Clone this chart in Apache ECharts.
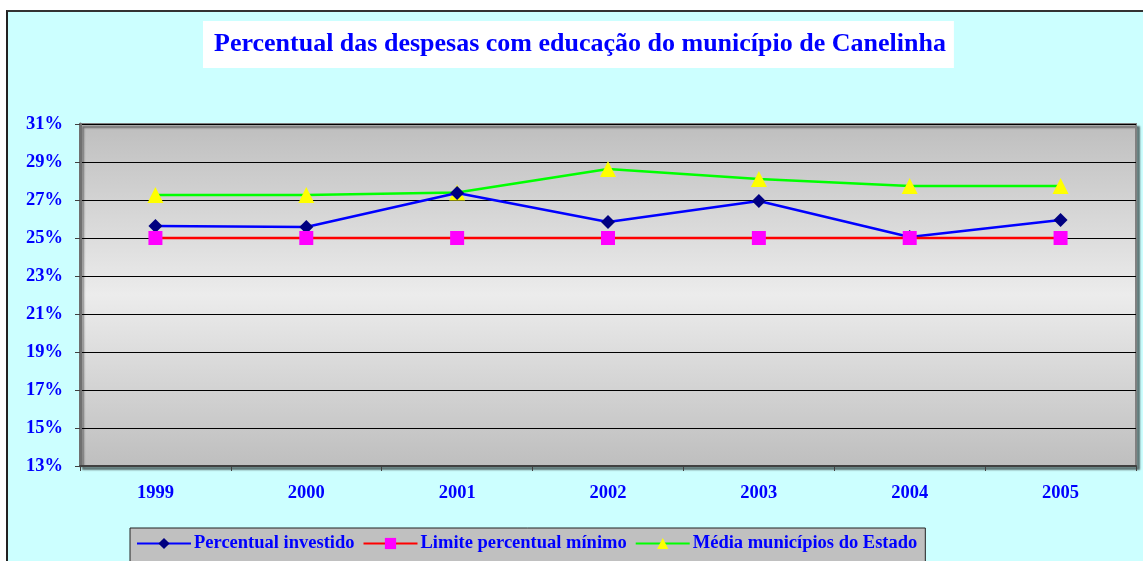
<!DOCTYPE html>
<html>
<head>
<meta charset="utf-8">
<script src="https://cdn.jsdelivr.net/npm/echarts@6/dist/echarts.min.js"></script>
<style>
html,body{margin:0;padding:0;background:#ffffff;width:1143px;height:561px;overflow:hidden;}
#frame{position:absolute;left:6px;top:10px;width:1200px;height:600px;background:#ccffff;border-left:2px solid #222;border-top:2px solid #333;}
#main{position:absolute;left:0;top:0;width:1143px;height:561px;}
</style>
</head>
<body>
<div id="frame"></div>
<div id="main"></div>
<script>
const titleText = 'Percentual das despesas com educação do município de Canelinha';
const categories = ['1999', '2000', '2001', '2002', '2003', '2004', '2005'];
const percentualInvestido = [25.63, 25.58, 27.37, 25.84, 26.95, 25.05, 25.95];
const limiteMinimo = [25, 25, 25, 25, 25, 25, 25];
const mediaEstado = [27.26, 27.26, 27.40, 28.63, 28.10, 27.74, 27.74];
const yTicks = [13, 15, 17, 19, 21, 23, 25, 27, 29, 31];
const seriesNames = ['Percentual investido', 'Limite percentual mínimo', 'Média municípios do Estado'];

const FONT = '"Liberation Serif", "Times New Roman", serif';
const chart = echarts.init(document.getElementById('main'), null, {renderer: 'canvas'});

chart.setOption({
  backgroundColor: 'transparent',
  animation: false,
  title: {
    text: titleText,
    left: 203,
    top: 21,
    padding: [10, 8, 10, 11],
    backgroundColor: '#ffffff',
    textStyle: {color: '#0000ff', fontFamily: FONT, fontWeight: 'bold', fontSize: 26, lineHeight: 27}
  },
  grid: {
    left: 80, right: 7, top: 124, bottom: 95,
    show: true,
    borderWidth: 2,
    borderColor: '#808080',
    backgroundColor: {
      type: 'linear', x: 0, y: 0, x2: 0, y2: 1,
      colorStops: [
        {offset: 0, color: '#bebebe'},
        {offset: 0.5, color: '#ececec'},
        {offset: 1, color: '#bebebe'}
      ]
    },
    shadowColor: 'rgba(0,0,0,0.45)',
    shadowBlur: 2,
    shadowOffsetX: 3,
    shadowOffsetY: 3
  },
  legend: {
    data: seriesNames,
    left: 130,
    top: 528,
    padding: [6, 8, 10, 6],
    itemGap: 8,
    itemWidth: 54,
    itemHeight: 14,
    backgroundColor: '#c0c0c0',
    borderColor: '#222',
    borderWidth: 1,
    textStyle: {color: '#0000ff', fontFamily: FONT, fontWeight: 'bold', fontSize: 18.5, padding: [0, 0, 0, -2]}
  },
  xAxis: {
    type: 'category',
    data: categories,
    boundaryGap: true,
    axisLine: {show: true, lineStyle: {color: '#404040', width: 2}},
    axisTick: {show: true, length: 5, lineStyle: {color: '#404040', width: 1}},
    axisLabel: {color: '#0000ff', fontFamily: FONT, fontWeight: 'bold', fontSize: 18.5, margin: 18},
    splitLine: {show: false}
  },
  yAxis: {
    type: 'value',
    min: 13,
    max: 31,
    axisLine: {show: true, lineStyle: {color: '#707070', width: 3}},
    axisTick: {show: true, length: 5, customValues: yTicks, lineStyle: {color: '#404040', width: 1}},
    axisLabel: {customValues: yTicks, formatter: '{value}%', color: '#0000ff', fontFamily: FONT, fontWeight: 'bold', fontSize: 18.5, margin: 17},
    splitLine: {show: true, lineStyle: {color: '#000000', width: 1}}
  },
  series: [
    {
      name: seriesNames[0], type: 'line', data: percentualInvestido,
      symbol: 'diamond', symbolSize: 14,
      lineStyle: {color: '#0000ff', width: 2.5},
      itemStyle: {color: '#000080', borderWidth: 0},
      z: 3
    },
    {
      name: seriesNames[1], type: 'line', data: limiteMinimo,
      symbol: 'rect', symbolSize: 14,
      lineStyle: {color: '#ff0000', width: 2.5},
      itemStyle: {color: '#ff00ff', borderWidth: 0},
      z: 4
    },
    {
      name: seriesNames[2], type: 'line', data: mediaEstado,
      symbol: 'triangle', symbolSize: 16,
      lineStyle: {color: '#00ff00', width: 2.5},
      itemStyle: {color: '#ffff00', borderWidth: 0},
      z: 2
    }
  ]
});
</script>
</body>
</html>
